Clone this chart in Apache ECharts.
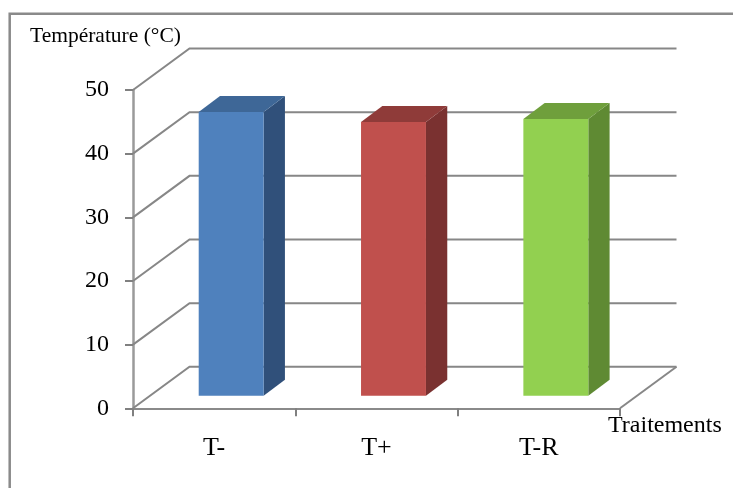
<!DOCTYPE html>
<html>
<head>
<meta charset="utf-8">
<script src="https://cdn.jsdelivr.net/npm/echarts@6/dist/echarts.min.js"></script>
<style>
  html, body { margin: 0; padding: 0; background: #ffffff; }
  #chart { width: 733px; height: 488px; }
</style>
</head>
<body>
<div id="chart"></div>
<script>
// Treatments and their measured temperatures (°C)
const categories = ['T-', 'T+', 'T-R'];
const temperatures = [44.6, 43.0, 43.5];
const yTicks = [0, 10, 20, 30, 40, 50];

// Shading for each bar: front face, top face, right side
const faceColors = ['#4F81BD', '#C0504D', '#92D050'];
const topColors = ['#3E6797', '#8F3B39', '#6F9F3C'];
const sideColors = ['#30507A', '#7A3130', '#5F8A33'];

// Pseudo-3D depth in pixels: walls, bar offset from the front plane, bar thickness
const WALL_DX = 56.5, WALL_DY = -41.5;
const BAR_OFF_DX = 17, BAR_OFF_DY = -12.5;
const BAR_DX = 21.3, BAR_DY = -16;
const BAR_WIDTH_RATIO = 0.4;
const GRID_COLOR = '#878787';
const SERIF = '"Liberation Serif", "Times New Roman", serif';

const chart = echarts.init(document.getElementById('chart'), null, { renderer: 'canvas' });

// Left wall diagonal + back wall horizontal line for one tick value
function renderWall(params, api) {
  const cs = params.coordSys;
  const v = api.value(1);
  const y = api.coord([0, v])[1];
  const x0 = cs.x, x1 = cs.x + cs.width;
  const children = [{
    type: 'polyline',
    shape: { points: [[x0, y], [x0 + WALL_DX, y + WALL_DY], [x1 + WALL_DX, y + WALL_DY]] },
    style: { stroke: GRID_COLOR, lineWidth: 2, fill: null }
  }];
  if (v === 0) {
    // right edge of the floor
    children.push({
      type: 'line',
      shape: { x1: x1, y1: y, x2: x1 + WALL_DX, y2: y + WALL_DY },
      style: { stroke: GRID_COLOR, lineWidth: 2 }
    });
  }
  return { type: 'group', children: children };
}

// Box-shaped bar: front face, top face and right side
function renderBar(params, api) {
  const i = api.value(0);
  const v = api.value(1);
  const base = api.coord([i, 0]);
  const top = api.coord([i, v]);
  const band = api.size([1, 0])[0];
  const w = band * BAR_WIDTH_RATIO;
  const xl = base[0] - w / 2 + BAR_OFF_DX;
  const xr = xl + w;
  const yb = base[1] + BAR_OFF_DY;
  const yt = top[1] + BAR_OFF_DY;
  const k = params.dataIndex;
  return {
    type: 'group',
    children: [
      {
        type: 'polygon',
        shape: { points: [[xr, yt], [xr + BAR_DX, yt + BAR_DY], [xr + BAR_DX, yb + BAR_DY], [xr, yb]] },
        style: { fill: sideColors[k] }
      },
      {
        type: 'polygon',
        shape: { points: [[xl, yt], [xr, yt], [xr + BAR_DX, yt + BAR_DY], [xl + BAR_DX, yt + BAR_DY]] },
        style: { fill: topColors[k] }
      },
      {
        type: 'rect',
        shape: { x: xl, y: yt, width: w, height: yb - yt },
        style: { fill: faceColors[k] }
      }
    ]
  };
}

const option = {
  backgroundColor: '#ffffff',
  animation: false,
  title: {
    text: 'Température (°C)',
    left: 30,
    top: 25,
    padding: 0,
    textStyle: { fontFamily: SERIF, fontSize: 21.5, fontWeight: 'normal', color: '#000000' }
  },
  graphic: [{
    type: 'rect',
    silent: true,
    shape: { x: 9.7, y: 13.8, width: 760, height: 520 },
    style: { fill: null, stroke: '#8a8a8a', lineWidth: 2.5 }
  }],
  grid: { left: 133, right: 113, top: 90, bottom: 79.7 },
  xAxis: {
    type: 'category',
    data: categories,
    boundaryGap: true,
    axisLine: { show: true, lineStyle: { color: '#8a8a8a', width: 2 } },
    axisTick: { show: true, length: 8, interval: 0, lineStyle: { color: '#808080', width: 2 } },
    axisLabel: { fontFamily: SERIF, fontSize: 26, color: '#000000', margin: 27, interval: 0 },
    splitLine: { show: false },
    name: 'Traitements',
    nameLocation: 'end',
    nameGap: -12,
    nameTextStyle: {
      fontFamily: SERIF, fontSize: 24, color: '#000000',
      align: 'left', verticalAlign: 'top', padding: [5, 0, 0, 0]
    }
  },
  yAxis: {
    type: 'value',
    min: 0,
    max: 50,
    interval: 10,
    axisLine: { show: true, lineStyle: { color: '#9a9a9a', width: 2.5 } },
    axisTick: { show: true, length: 8, lineStyle: { color: '#808080', width: 2 } },
    axisLabel: { fontFamily: SERIF, fontSize: 24, color: '#000000', margin: 24 },
    splitLine: { show: false }
  },
  series: [
    {
      type: 'custom',
      name: 'walls',
      z: 1,
      silent: true,
      renderItem: renderWall,
      encode: { x: 0, y: 1 },
      data: yTicks.map(function (v) { return [0, v]; })
    },
    {
      type: 'custom',
      name: 'Température',
      z: 3,
      renderItem: renderBar,
      encode: { x: 0, y: 1 },
      data: temperatures.map(function (v, i) { return [i, v]; })
    }
  ]
};

chart.setOption(option);
</script>
</body>
</html>
